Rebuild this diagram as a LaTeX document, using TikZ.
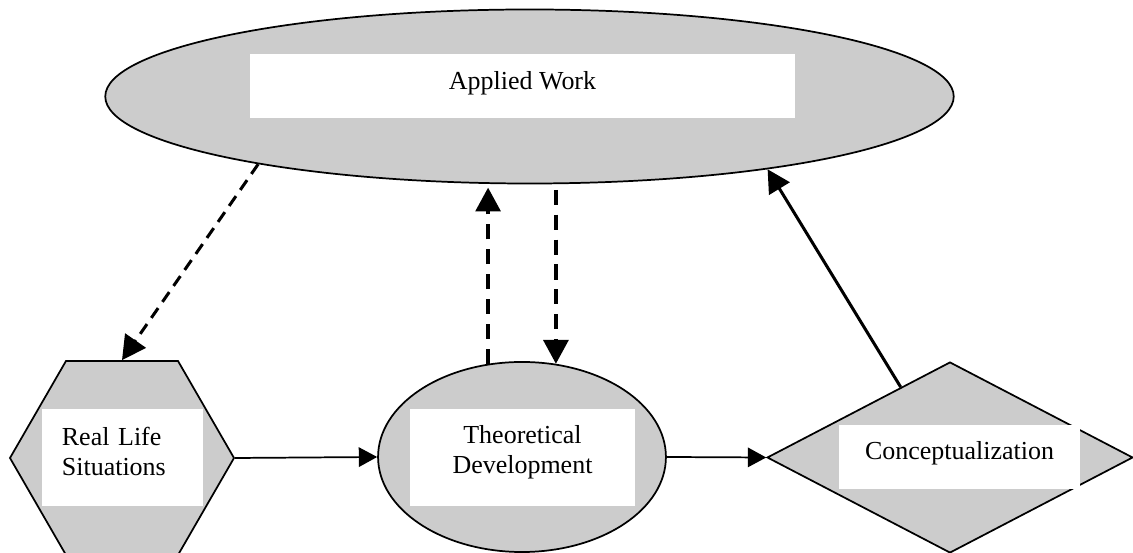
\documentclass[tikz,border=0pt]{standalone}
\usepackage{fontspec}
\setmainfont{Liberation Serif}
\usetikzlibrary{shapes.geometric,arrows.meta}
\definecolor{shapegray}{RGB}{204,204,204}
% invisible strut that lowers the bottom of a text box
\newcommand\dn[1]{\rule[-#1]{0pt}{#1}}

\begin{document}
\begin{tikzpicture}[x=0.462pt, y=-0.462pt,
    blob/.style={draw, fill=shapegray, line width=0.8pt},
    whitebox/.style={fill=white, inner sep=0pt, font=\fontsize{12pt}{13.8pt}\selectfont},
    thinarrow/.style={-{Triangle[length=8.5pt,width=9pt]}, line width=0.8pt},
    solidarrow/.style={-{Triangle[length=10.5pt,width=11pt]}, line width=1.4pt},
    dasharrow/.style={-{Triangle[length=11pt,width=11.5pt]}, line width=1.6pt,
        dash pattern=on 7pt off 4.5pt}]
    \useasboundingbox (0,0) rectangle (1133,553);

    % Applied work on top
    \node[blob, ellipse, minimum width=392pt, minimum height=80.4pt] (aw) at (529.5,96.5) {};
    \node[whitebox, minimum width=251.7pt, minimum height=29.6pt] (awtext) at (522.5,86)
        {Applied Work\dn{5.4pt}};

    % Bottom row: hexagon, ellipse, diamond
    \node[blob, regular polygon, regular polygon sides=6, minimum size=103.5pt] (rls) at (122,458) {};
    \node[whitebox, text width=56pt, inner xsep=9.2pt, align=left, minimum height=44.8pt] (rlstext)
        at (122.5,457.5) {Real Life\\Situations\dn{6pt}};

    \node[blob, ellipse, minimum width=133pt, minimum height=87.8pt] (td) at (522,457) {};
    \node[whitebox, text width=104pt, align=center, minimum height=44.8pt] (tdtext)
        at (522.5,457.5) {Theoretical\\Development\dn{7.6pt}};

    \node[blob, diamond, minimum width=169pt, minimum height=88.2pt] (concept) at (950,457.5) {};
    \node[whitebox, minimum width=111.3pt, minimum height=29.6pt] (concepttext) at (959.5,457)
        {Conceptualization\dn{6.4pt}};

    % Connectors
    \draw[thinarrow] (rls.east) -- (td.west);
    \draw[thinarrow] (td.east) -- (concept.west);
    \draw[solidarrow] (concept.125) -- (aw.-17);
    \draw[dasharrow, line width=1.4pt, dash pattern=on 5.5pt off 3.5pt] (aw.194) -- (rls.north);
    \draw[dasharrow, shorten >=1.5pt] (td.110) -- (td.110 |- aw.south);
    \draw[dasharrow, shorten <=2.5pt] (aw.south -| td.70) -- (td.70);
\end{tikzpicture}
\end{document}
